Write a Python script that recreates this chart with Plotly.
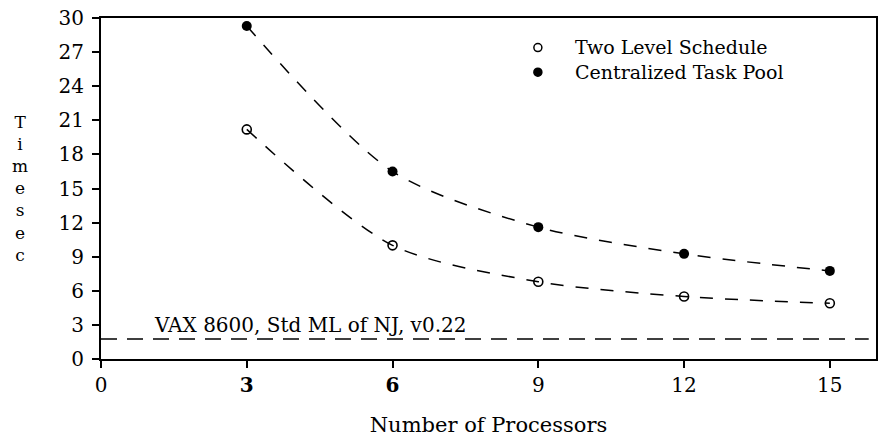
import plotly.graph_objects as go

processors = [3, 6, 9, 12, 15]
two_level = [20.2, 10.0, 6.8, 5.5, 4.9]
centralized = [29.3, 16.5, 11.6, 9.25, 7.75]
vax_x = [0, 15.8]
vax_time = [1.75, 1.75]
x_ticks = [0, 3, 6, 9, 12, 15]
x_ticklabels = ["0", "<b>3</b>", "<b>6</b>", "9", "12", "15"]
y_ticks = [0, 3, 6, 9, 12, 15, 18, 21, 24, 27, 30]
series_names = ["Two Level Schedule", "Centralized Task Pool"]
y_title_letters = ["T", "i", "m", "e", "s", "e", "c"]

FONT = "DejaVu Serif"
W, H = 884, 446
L, R, T, B = 101, 6, 17, 87
PH = H - T - B


def py(p):
    return (H - B - p) / PH


def px(p):
    return (p - L) / (W - L - R)


fig = go.Figure()
fig.add_trace(go.Scatter(
    x=processors, y=two_level, mode="lines+markers", name=series_names[0], showlegend=False,
    line=dict(color="black", width=1.5, dash="13px,12px", shape="spline", smoothing=0.8),
    marker=dict(symbol="circle-open", size=9, color="black", line=dict(width=1.6)),
))
fig.add_trace(go.Scatter(
    x=processors, y=centralized, mode="lines+markers", name=series_names[1], showlegend=False,
    line=dict(color="black", width=1.5, dash="13px,12px", shape="spline", smoothing=0.8),
    marker=dict(symbol="circle", size=10, color="black"),
))
fig.add_trace(go.Scatter(
    x=vax_x, y=vax_time, mode="lines", showlegend=False,
    line=dict(color="black", width=1.5, dash="16px,10px"),
))

fig.add_annotation(x=1.05, y=vax_time[0], xref="x", yref="y", text="VAX 8600, Std ML of NJ, v0.22",
                   showarrow=False, xanchor="left", yanchor="bottom", yshift=0,
                   font=dict(family=FONT, size=20, color="black"))

# stacked y-axis title (one text, letters stacked)
fig.add_annotation(x=px(20), y=py(188), xref="paper", yref="paper",
                   text="<br>".join(y_title_letters), showarrow=False,
                   xanchor="center", yanchor="middle", align="center",
                   font=dict(family=FONT, size=17, color="black"))

# legend (markers + one text block)
legend_center = 59
legend_font = 19
line_gap = 1.3 * legend_font
legend_rows = [legend_center - line_gap / 2, legend_center + line_gap / 2]
for i, p in enumerate(legend_rows):
    fig.add_shape(type="circle", xref="paper", yref="paper", xsizemode="pixel", ysizemode="pixel",
                  xanchor=px(539), yanchor=py(p), x0=-4, x1=4, y0=-4, y1=4,
                  line=dict(color="black", width=1.5),
                  fillcolor="white" if i == 0 else "black")
fig.add_annotation(x=px(574), y=py(legend_center), xref="paper", yref="paper",
                   text="<br>".join(series_names), showarrow=False,
                   xanchor="left", yanchor="middle", align="left",
                   font=dict(family=FONT, size=legend_font, color="black"))

fig.update_layout(
    width=W, height=H,
    margin=dict(l=L, r=R, t=T, b=B),
    paper_bgcolor="white", plot_bgcolor="white",
    font=dict(family=FONT, size=20, color="black"),
    showlegend=False,
    xaxis=dict(range=[0, 15.95], tickvals=x_ticks, ticktext=x_ticklabels, showgrid=False,
               zeroline=False, showline=True, linecolor="black", linewidth=2, mirror=True,
               ticks="outside", ticklen=7, tickwidth=2, tickcolor="black",
               tickfont=dict(family=FONT, size=20),
               title=dict(text="Number of Processors", font=dict(family=FONT, size=21), standoff=21)),
    yaxis=dict(range=[0, 30], tickvals=y_ticks, showgrid=False, zeroline=False,
               showline=True, linecolor="black", linewidth=2, mirror=True,
               ticks="outside", ticklen=7, tickwidth=2, tickcolor="black",
               ticklabelstandoff=4,
               tickfont=dict(family=FONT, size=20)),
)

fig.write_html("out.html")
